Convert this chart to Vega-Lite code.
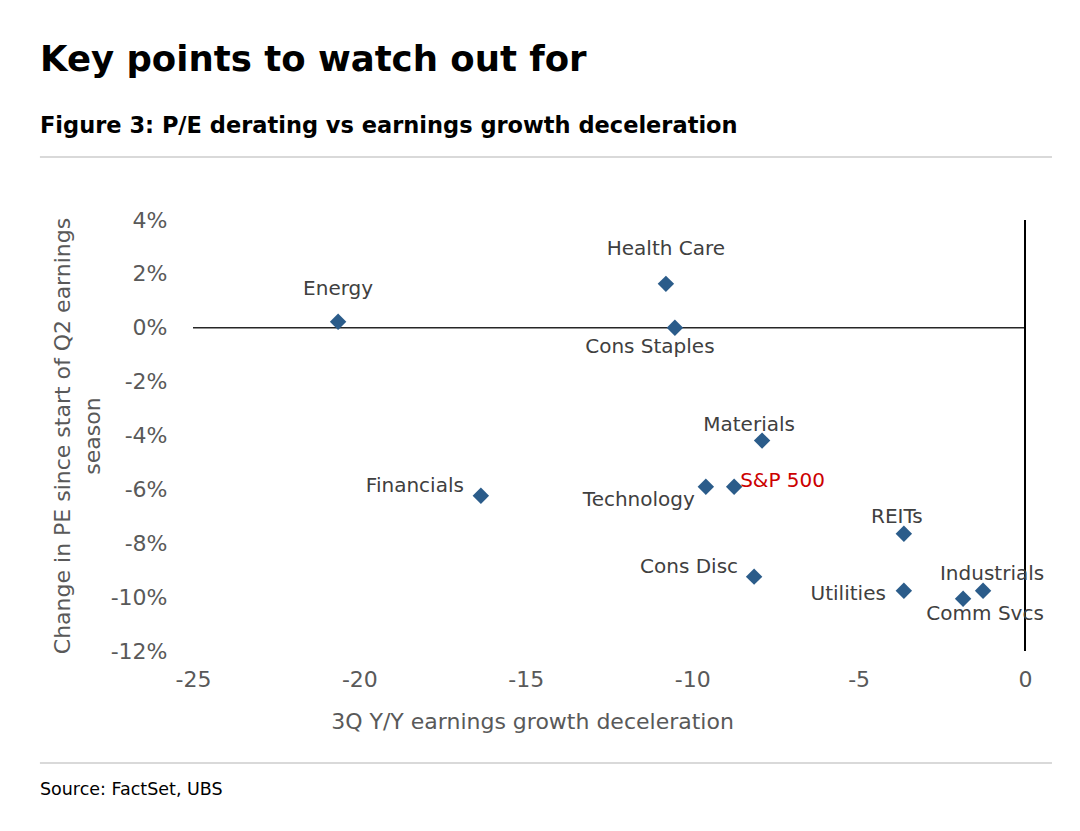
{
  "$schema": "https://vega.github.io/schema/vega-lite/v6.json",
  "width": 832,
  "height": 431,
  "autosize": "none",
  "padding": {"left": 193, "top": 220, "right": 55, "bottom": 180},
  "background": "white",
  "config": {
    "font": "DejaVu Sans",
    "view": {"stroke": null}
  },
  "title": {
    "text": "Key points to watch out for",
    "subtitle": "Figure 3: P/E derating vs earnings growth deceleration",
    "anchor": "start",
    "frame": "group",
    "dx": -153,
    "offset": 18,
    "font": "DejaVu Sans",
    "fontSize": 35.5,
    "fontWeight": "bold",
    "color": "#000000",
    "subtitleFont": "DejaVu Sans",
    "subtitleFontSize": 22.5,
    "subtitleFontWeight": "bold",
    "subtitleColor": "#000000",
    "subtitlePadding": 37
  },
  "layer": [
    {
      "data": {"values": [{}]},
      "mark": {"type": "rule", "color": "#d9d9d9", "strokeWidth": 2},
      "encoding": {
        "x": {"datum": -29.6, "type": "quantitative"},
        "x2": {"datum": 0.81},
        "y": {"datum": 0.0634, "type": "quantitative"}
      }
    },
    {
      "data": {"values": [{}]},
      "mark": {"type": "rule", "color": "#d9d9d9", "strokeWidth": 2},
      "encoding": {
        "x": {"datum": -29.6, "type": "quantitative"},
        "x2": {"datum": 0.81},
        "y": {"datum": -0.1616, "type": "quantitative"}
      }
    },
    {
      "data": {"values": [{}]},
      "mark": {"type": "text", "align": "left", "baseline": "alphabetic", "fontSize": 17.5, "color": "#000000", "font": "DejaVu Sans"},
      "encoding": {
        "x": {"datum": -29.6, "type": "quantitative"},
        "y": {"datum": -0.1735, "type": "quantitative"},
        "text": {"value": "Source: FactSet, UBS"}
      }
    },
    {
      "data": {"values": [{}]},
      "mark": {"type": "rule", "color": "#262626", "strokeWidth": 1.5},
      "encoding": {"y": {"datum": 0, "type": "quantitative"}}
    },
    {
      "data": {"values": [{}]},
      "mark": {"type": "rule", "color": "#000000", "strokeWidth": 2},
      "encoding": {"x": {"datum": 0, "type": "quantitative"}}
    },
    {
      "data": {
        "values": [
          {"sector": "Energy", "growth": -20.64, "pe": 0.0022},
          {"sector": "Health Care", "growth": -10.79, "pe": 0.0163},
          {"sector": "Cons Staples", "growth": -10.52, "pe": 0.0000},
          {"sector": "Materials", "growth": -7.9, "pe": -0.0419},
          {"sector": "Financials", "growth": -16.35, "pe": -0.0624},
          {"sector": "Technology", "growth": -9.59, "pe": -0.059},
          {"sector": "S&P 500", "growth": -8.74, "pe": -0.059},
          {"sector": "REITs", "growth": -3.64, "pe": -0.0765},
          {"sector": "Cons Disc", "growth": -8.14, "pe": -0.0924},
          {"sector": "Utilities", "growth": -3.64, "pe": -0.0976},
          {"sector": "Industrials", "growth": -1.26, "pe": -0.0976},
          {"sector": "Comm Svcs", "growth": -1.86, "pe": -0.1006}
        ]
      },
      "encoding": {
        "x": {
          "field": "growth",
          "type": "quantitative",
          "scale": {"domain": [-25, 0], "nice": false, "zero": false},
          "axis": {
            "title": "3Q Y/Y earnings growth deceleration",
            "values": [-25, -20, -15, -10, -5, 0],
            "labelExpr": "replace(datum.label, '−', '-')",
            "domain": false,
            "ticks": false,
            "grid": false,
            "labelFont": "DejaVu Sans",
            "labelFontSize": 22,
            "labelColor": "#595959",
            "labelPadding": 18,
            "labelFlush": false,
            "titleFont": "DejaVu Sans",
            "titleFontSize": 22,
            "titleFontWeight": "normal",
            "titleColor": "#595959",
            "titlePadding": 21,
            "titleX": 339
          }
        },
        "y": {
          "field": "pe",
          "type": "quantitative",
          "scale": {"domain": [-0.12, 0.04], "nice": false, "zero": false},
          "axis": {
            "title": ["Change in PE since start of Q2 earnings", "season"],
            "values": [-0.12, -0.1, -0.08, -0.06, -0.04, -0.02, 0, 0.02, 0.04],
            "format": ".0%",
            "labelExpr": "replace(datum.label, '−', '-')",
            "domain": false,
            "ticks": false,
            "grid": false,
            "labelFont": "DejaVu Sans",
            "labelFontSize": 22,
            "labelColor": "#595959",
            "labelPadding": 26,
            "labelFlush": false,
            "titleFont": "DejaVu Sans",
            "titleFontSize": 22,
            "titleFontWeight": "normal",
            "titleColor": "#595959",
            "titlePadding": 6,
            "titleLineHeight": 30
          }
        }
      },
      "layer": [
        {
          "mark": {"type": "point", "shape": "diamond", "filled": true, "size": 270, "color": "#2B5C8A", "opacity": 1}
        },
        {
          "transform": [{"filter": "datum.sector == 'Energy'"}],
          "mark": {"type": "text", "align": "center", "baseline": "middle", "dx": 0, "dy": -33, "fontSize": 20, "color": "#404040"},
          "encoding": {"text": {"field": "sector"}}
        },
        {
          "transform": [{"filter": "datum.sector == 'Health Care'"}],
          "mark": {"type": "text", "align": "center", "baseline": "middle", "dx": 0, "dy": -35, "fontSize": 20, "color": "#404040"},
          "encoding": {"text": {"field": "sector"}}
        },
        {
          "transform": [{"filter": "datum.sector == 'Cons Staples'"}],
          "mark": {"type": "text", "align": "center", "baseline": "middle", "dx": -25, "dy": 19, "fontSize": 20, "color": "#404040"},
          "encoding": {"text": {"field": "sector"}}
        },
        {
          "transform": [{"filter": "datum.sector == 'Materials'"}],
          "mark": {"type": "text", "align": "center", "baseline": "middle", "dx": -13, "dy": -16, "fontSize": 20, "color": "#404040"},
          "encoding": {"text": {"field": "sector"}}
        },
        {
          "transform": [{"filter": "datum.sector == 'Financials'"}],
          "mark": {"type": "text", "align": "right", "baseline": "middle", "dx": -17, "dy": -10, "fontSize": 20, "color": "#404040"},
          "encoding": {"text": {"field": "sector"}}
        },
        {
          "transform": [{"filter": "datum.sector == 'Technology'"}],
          "mark": {"type": "text", "align": "right", "baseline": "middle", "dx": -11, "dy": 13, "fontSize": 20, "color": "#404040"},
          "encoding": {"text": {"field": "sector"}}
        },
        {
          "transform": [{"filter": "datum.sector == 'S&P 500'"}],
          "mark": {"type": "text", "align": "left", "baseline": "middle", "dx": 6, "dy": -6, "fontSize": 20, "color": "#CC0000"},
          "encoding": {"text": {"field": "sector"}}
        },
        {
          "transform": [{"filter": "datum.sector == 'REITs'"}],
          "mark": {"type": "text", "align": "center", "baseline": "middle", "dx": -7, "dy": -17, "fontSize": 20, "color": "#404040"},
          "encoding": {"text": {"field": "sector"}}
        },
        {
          "transform": [{"filter": "datum.sector == 'Cons Disc'"}],
          "mark": {"type": "text", "align": "right", "baseline": "middle", "dx": -16, "dy": -10, "fontSize": 20, "color": "#404040"},
          "encoding": {"text": {"field": "sector"}}
        },
        {
          "transform": [{"filter": "datum.sector == 'Utilities'"}],
          "mark": {"type": "text", "align": "right", "baseline": "middle", "dx": -18, "dy": 3, "fontSize": 20, "color": "#404040"},
          "encoding": {"text": {"field": "sector"}}
        },
        {
          "transform": [{"filter": "datum.sector == 'Industrials'"}],
          "mark": {"type": "text", "align": "center", "baseline": "middle", "dx": 9, "dy": -17, "fontSize": 20, "color": "#404040"},
          "encoding": {"text": {"field": "sector"}}
        },
        {
          "transform": [{"filter": "datum.sector == 'Comm Svcs'"}],
          "mark": {"type": "text", "align": "center", "baseline": "middle", "dx": 22, "dy": 15, "fontSize": 20, "color": "#404040"},
          "encoding": {"text": {"field": "sector"}}
        }
      ]
    }
  ]
}
